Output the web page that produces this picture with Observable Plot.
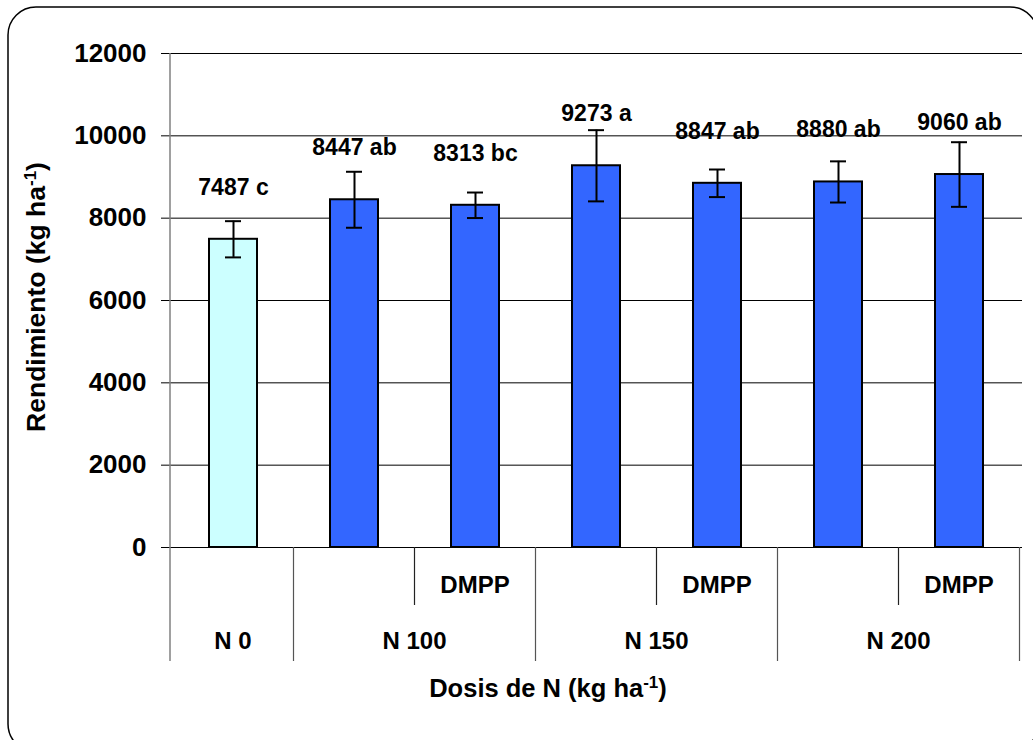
<!DOCTYPE html>
<html>
<head>
<meta charset="utf-8">
<script src="https://cdn.jsdelivr.net/npm/d3@7"></script>
<script src="https://cdn.jsdelivr.net/npm/@observablehq/plot@0.6"></script>
<style>
  html, body { margin: 0; padding: 0; background: white; }
  svg { display: block; }
</style>
</head>
<body>
<div id="chart"></div>
<script>
const categories = ["N 0", "N 100", "N 100 DMPP", "N 150", "N 150 DMPP", "N 200", "N 200 DMPP"];
const groups = ["N 0", "N 100", "N 100", "N 150", "N 150", "N 200", "N 200"];
const subLabels = ["", "", "DMPP", "", "DMPP", "", "DMPP"];
const yields = [7487, 8447, 8313, 9273, 8847, 8880, 9060];
const errors = [440, 680, 310, 865, 335, 500, 785];
const letters = ["c", "ab", "bc", "a", "ab", "ab", "ab"];
const yTicks = [0, 2000, 4000, 6000, 8000, 10000, 12000];

const data = categories.map((c, i) => ({
  cat: c, group: groups[i], sub: subLabels[i],
  value: yields[i], err: errors[i], letter: letters[i]
}));

const W = 1033, H = 740;
const mTop = 53, mBottom = 193, mLeft = 170, mRight = 11;
const font = "'Liberation Sans', Arial, sans-serif";

const plot = Plot.plot({
  width: W, height: H,
  marginTop: mTop, marginBottom: mBottom, marginLeft: mLeft, marginRight: mRight,
  style: { fontFamily: font, background: "white", color: "black" },
  x: { domain: categories, paddingInner: 0.6, paddingOuter: 0.3, axis: null },
  y: { domain: [0, 12000], axis: null },
  marks: [
    Plot.gridY(yTicks, { stroke: "black", strokeOpacity: 1, strokeWidth: 1 }),
    Plot.axisY({ ticks: yTicks, tickSize: 9, tickPadding: 15, fontSize: 26, fontWeight: "bold",
                 tickFormat: d => String(d), stroke: "black", fill: "black", label: null }),
    Plot.barY(data, { x: "cat", y: "value",
                      fill: d => d.group === "N 0" ? "#CCFFFF" : "#3366FF",
                      stroke: "black", strokeWidth: 2 }),
    Plot.ruleX(data, { x: "cat", y1: d => d.value - d.err, y2: d => d.value + d.err,
                       stroke: "black", strokeWidth: 2 }),
    Plot.tickY(data, { x: "cat", y: d => d.value + d.err, insetLeft: 16, insetRight: 16,
                       stroke: "black", strokeWidth: 2 }),
    Plot.tickY(data, { x: "cat", y: d => d.value - d.err, insetLeft: 16, insetRight: 16,
                       stroke: "black", strokeWidth: 2 }),
    Plot.text(data, { x: "cat", y: "value", dy: -52,
                      text: d => `${d.value} ${d.letter}`,
                      fontSize: 23, fontWeight: "bold", fill: "black" })
  ]
});

document.getElementById("chart").appendChild(plot);

// Build category axis using Plot's x scale
const sx = plot.scale("x");
const band = d3.scaleBand().domain(sx.domain).range(sx.range).paddingInner(0.6).paddingOuter(0.3);
const pos = c => (sx.apply ? sx.apply(c) : band(c));
const bw = sx.bandwidth ?? band.bandwidth();
const step = sx.step ?? band.step();
const gap = (step - bw) / 2;
const y0 = H - mBottom;
const svg = d3.select(plot);

const ax = svg.append("g");
ax.append("line").attr("x1", mLeft).attr("x2", mLeft).attr("y1", mTop).attr("y2", y0 + 114)
  .attr("stroke", "#808080").attr("stroke-width", 1.5);

categories.forEach((c, i) => {
  if (i === 0) return;
  const bx = pos(c) - gap;
  const long = groups[i] !== groups[i - 1];
  ax.append("line").attr("x1", bx).attr("x2", bx).attr("y1", y0).attr("y2", y0 + (long ? 114 : 58))
    .attr("stroke", long ? "#555" : "#222").attr("stroke-width", 1.2);
});
const lastX = pos(categories[categories.length - 1]) + bw + gap;
ax.append("line").attr("x1", lastX).attr("x2", lastX).attr("y1", y0).attr("y2", y0 + 114)
  .attr("stroke", "#555").attr("stroke-width", 1.2);

categories.forEach((c, i) => {
  if (!subLabels[i]) return;
  ax.append("text").attr("x", pos(c) + bw / 2).attr("y", y0 + 40)
    .attr("text-anchor", "middle").attr("dominant-baseline", "middle")
    .attr("font-family", font).attr("font-size", 24).attr("font-weight", "bold")
    .text(subLabels[i]);
});
const uniq = Array.from(new Set(groups));
uniq.forEach(g => {
  const idx = groups.map((v, i) => v === g ? i : -1).filter(i => i >= 0);
  const left = pos(categories[idx[0]]) - gap;
  const right = pos(categories[idx[idx.length - 1]]) + bw + gap;
  ax.append("text").attr("x", (left + right) / 2).attr("y", y0 + 96)
    .attr("text-anchor", "middle").attr("dominant-baseline", "middle")
    .attr("font-family", font).attr("font-size", 24).attr("font-weight", "bold")
    .text(g);
});

// Axis titles
const xt = svg.append("text").attr("x", 548).attr("y", 697)
  .attr("text-anchor", "middle").attr("font-family", font).attr("font-size", 25.5).attr("font-weight", "bold");
xt.append("tspan").text("Dosis de N (kg ha");
xt.append("tspan").attr("baseline-shift", "super").attr("font-size", 17).text("-1");
xt.append("tspan").text(")");

const yt = svg.append("text").attr("transform", "translate(45,297) rotate(-90)")
  .attr("text-anchor", "middle").attr("font-family", font).attr("font-size", 26.5).attr("font-weight", "bold");
yt.append("tspan").text("Rendimiento (kg ha");
yt.append("tspan").attr("baseline-shift", "super").attr("font-size", 17).text("-1");
yt.append("tspan").text(")");

// Outer rounded frame
svg.append("rect").attr("x", 8).attr("y", 7).attr("width", 1030).attr("height", 745)
  .attr("rx", 28).attr("ry", 28).attr("fill", "none").attr("stroke", "black").attr("stroke-width", 1.5);
</script>
</body>
</html>
